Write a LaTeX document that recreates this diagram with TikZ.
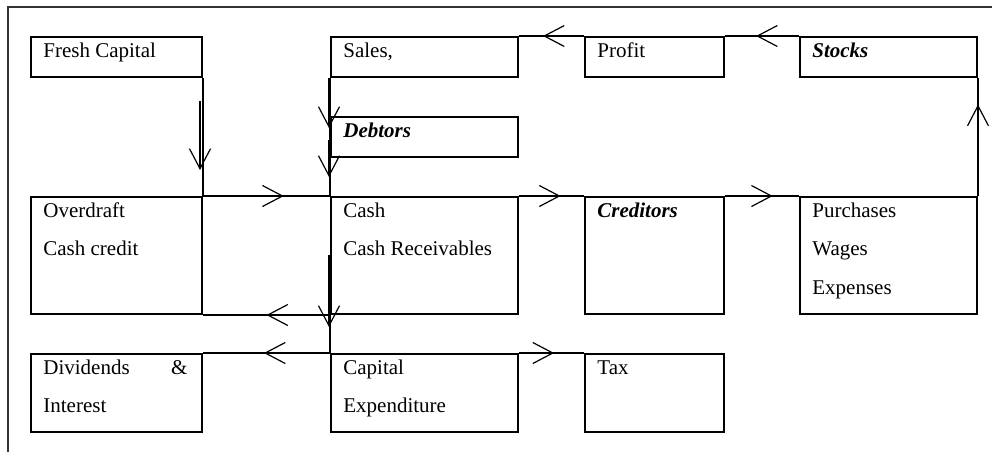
\documentclass[tikz,border=0pt]{standalone}
\usepackage{fontspec}
\setmainfont{Liberation Serif}
\usetikzlibrary{arrows.meta,decorations.markings}
\tikzset{
  box/.style={draw, line width=1pt, anchor=north west, inner sep=0pt},
  lbl/.style={anchor=north west, inner sep=0pt, align=left, xshift=6.5pt, yshift=-2.5pt,
    font=\fontsize{10.5pt}{19.25pt}\selectfont},
  barb/.style={-{Straight Barb[length=10pt,width=10.5pt,line width=0.6pt]}, line width=1pt},
  flow/.style={line width=1pt, postaction={decorate},
    decoration={markings, mark=at position #1 with {\arrow{Straight Barb[length=10pt,width=10.5pt,line width=0.6pt]}}}},
}
\newcommand{\fst}{\rule{0pt}{8pt}}
\begin{document}
\begin{tikzpicture}[x=0.5pt, y=-0.5pt]
        \useasboundingbox (0,0) rectangle (992,452);
        \draw[line width=1.3pt, black!80] (8,452) -- (8,7) -- (992,7);
        \node[box, minimum width=85.5pt, minimum height=20pt]   (fresh)     at (30,36)   {};
        \node[box, minimum width=93.5pt, minimum height=20pt]   (sales)     at (330,36)  {};
        \node[box, minimum width=69.5pt, minimum height=20pt]   (profit)    at (584,36)  {};
        \node[box, minimum width=88.5pt, minimum height=20pt]   (stocks)    at (799,36)  {};
        \node[box, minimum width=93.5pt, minimum height=20pt]   (debtors)   at (330,116) {};
        \node[box, minimum width=85.5pt, minimum height=58.5pt] (overdraft) at (30,196)  {};
        \node[box, minimum width=93.5pt, minimum height=58.5pt] (cash)      at (330,196) {};
        \node[box, minimum width=69.5pt, minimum height=58.5pt] (creditors) at (584,196) {};
        \node[box, minimum width=88.5pt, minimum height=58.5pt] (purchases) at (799,196) {};
        \node[box, minimum width=85.5pt, minimum height=39pt]   (dividends) at (30,353)  {};
        \node[box, minimum width=93.5pt, minimum height=39pt]   (capital)   at (330,353) {};
        \node[box, minimum width=69.5pt, minimum height=39pt]   (tax)       at (584,353) {};
        \node[lbl] (fresh-t)     at (fresh.north west)     {\fst Fresh Capital};
        \node[lbl] (sales-t)     at (sales.north west)     {\fst Sales,};
        \node[lbl] (profit-t)    at (profit.north west)    {\fst Profit};
        \node[lbl] (stocks-t)    at (stocks.north west)    {\fst\textbf{\textit{Stocks}}};
        \node[lbl] (debtors-t)   at (debtors.north west)   {\fst\textbf{\textit{Debtors}}};
        \node[lbl] (overdraft-t) at (overdraft.north west) {\fst Overdraft\\Cash credit};
        \node[lbl] (cash-t)      at (cash.north west)      {\fst Cash\\Cash Receivables};
        \node[lbl] (creditors-t) at (creditors.north west) {\fst\textbf{\textit{Creditors}}};
        \node[lbl] (purchases-t) at (purchases.north west) {\fst Purchases\\Wages\\Expenses};
        \node[lbl] (dividends-t) at (dividends.north west) {\fst\makebox[72pt]{Dividends\hfill\&}\\Interest};
        \node[lbl] (capital-t)   at (capital.north west)   {\fst Capital\\Expenditure};
        \node[lbl] (tax-t)       at (tax.north west)       {\fst Tax};
        \draw[flow=0.63]  (profit.north west) -- (sales.north east);
        \draw[flow=0.58]  (stocks.north west) -- (profit.north east);
        \draw[flow=0.775] (purchases.north east) -- (stocks.south east);
        \draw[line width=1pt] (fresh.south east) -- (overdraft.north east);
        \draw[barb] ([xshift=-1.5pt,yshift=-11.5pt]fresh.south east) -- ([xshift=-1.5pt,yshift=13pt]overdraft.north east);
        \draw[line width=1pt] (sales.south west) -- (cash.north west);
        \draw[barb] ([xshift=-0.5pt]sales.south west) -- ([xshift=-0.5pt,yshift=-6pt]debtors.north west);
        \draw[barb] ([xshift=-0.5pt,yshift=-12pt]debtors.north west) -- ([xshift=-0.5pt,yshift=9.5pt]cash.north west);
        \draw[flow=0.636] (overdraft.north east) -- (cash.north west);
        \draw[flow=0.64]  (cash.north east) -- (creditors.north west);
        \draw[flow=0.645] (creditors.north east) -- (purchases.north west);
        \draw[barb] ([xshift=-0.5pt,yshift=30pt]cash.south west) -- ([xshift=-0.5pt,yshift=-6pt]cash.south west);
        \draw[line width=1pt] (cash.south west) -- (capital.north west);
        \draw[flow=0.5]  (cash.south west) -- (overdraft.south east);
        \draw[flow=0.52] (capital.north west) -- (dividends.north east);
        \draw[flow=0.54] (capital.north east) -- (tax.north west);
    \end{tikzpicture}
\end{document}
